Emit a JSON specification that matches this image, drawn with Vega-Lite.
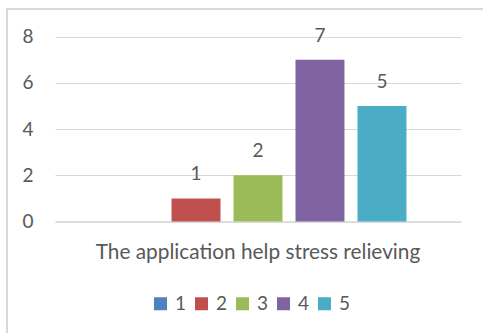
{
  "$schema": "https://vega.github.io/schema/vega-lite/v6.json",
  "width": 490,
  "height": 340,
  "autosize": "none",
  "padding": {"left": 7, "top": 9, "right": 0, "bottom": 0},
  "background": "#ffffff",
  "config": {
    "view": {"stroke": "#d9d9d9", "strokeWidth": 2},
    "font": "Lato",
    "text": {"font": "Lato"}
  },
  "data": {
    "values": [
      {"question": "The application help stress relieving", "rating": "1", "count": 0},
      {"question": "The application help stress relieving", "rating": "2", "count": 1},
      {"question": "The application help stress relieving", "rating": "3", "count": 2},
      {"question": "The application help stress relieving", "rating": "4", "count": 7},
      {"question": "The application help stress relieving", "rating": "5", "count": 5}
    ]
  },
  "encoding": {
    "x": {
      "field": "question",
      "type": "nominal",
      "scale": {"range": [48, 454], "paddingInner": 0, "paddingOuter": 0.155},
      "axis": {
        "orient": "bottom",
        "offset": -127.5,
        "title": null,
        "ticks": false,
        "labelAngle": 0,
        "labelPadding": 20.5,
        "labelLimit": 0,
        "labelFontSize": 20.8,
        "labelColor": "#595959",
        "labelFont": "Lato",
        "domain": true,
        "domainColor": "#d9d9d9",
        "domainWidth": 1.5
      }
    },
    "xOffset": {
      "field": "rating",
      "type": "nominal",
      "scale": {"paddingInner": 0.21, "paddingOuter": 0.105}
    },
    "y": {
      "field": "count",
      "type": "quantitative",
      "scale": {"domain": [0, 8], "range": [212.5, 27.5], "nice": false, "zero": true},
      "axis": {
        "orient": "left",
        "offset": -26,
        "title": null,
        "values": [0, 2, 4, 6, 8],
        "ticks": false,
        "domain": false,
        "labelPadding": 0,
        "labelFontSize": 19,
        "labelColor": "#595959",
        "labelFont": "Lato",
        "grid": true,
        "gridColor": "#d9d9d9",
        "gridWidth": 1.2
      }
    }
  },
  "layer": [
    {
      "mark": {"type": "bar"},
      "encoding": {
        "color": {
          "field": "rating",
          "type": "nominal",
          "scale": {
            "domain": ["1", "2", "3", "4", "5"],
            "range": ["#4f81bd", "#c0504d", "#9bbb59", "#8064a2", "#4bacc6"]
          },
          "legend": {
            "orient": "none",
            "legendX": 144,
            "legendY": 285,
            "direction": "horizontal",
            "title": null,
            "symbolType": "square",
            "symbolSize": 169,
            "symbolStrokeWidth": 0,
            "symbolOpacity": 1,
            "labelFontSize": 19,
            "labelColor": "#595959",
            "labelFont": "Lato",
            "labelOffset": 5,
            "columnPadding": 5
          }
        }
      }
    },
    {
      "transform": [{"filter": "datum.count > 0"}],
      "mark": {"type": "text", "baseline": "alphabetic", "dy": -18, "fontSize": 19, "color": "#595959", "font": "Lato"},
      "encoding": {
        "text": {"field": "count", "type": "quantitative"}
      }
    }
  ]
}
